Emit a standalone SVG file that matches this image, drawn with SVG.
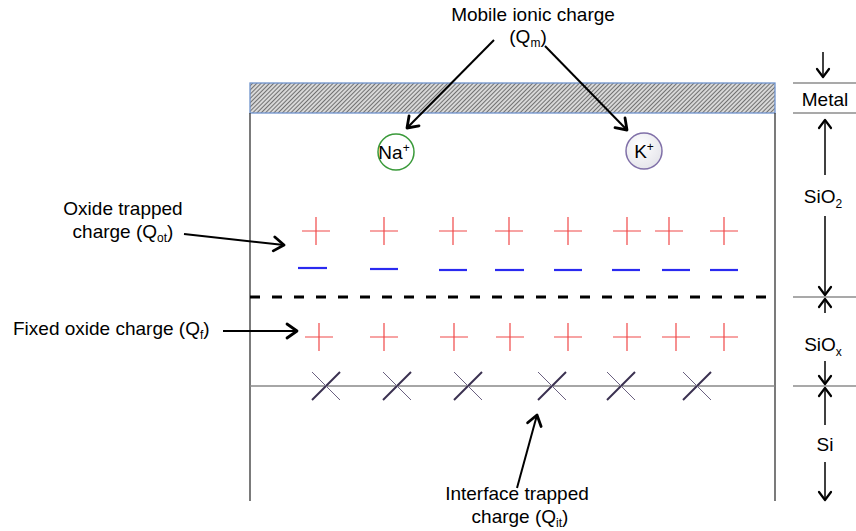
<svg xmlns="http://www.w3.org/2000/svg" width="856" height="531" viewBox="0 0 856 531">
<style>
text{font-family:"Liberation Sans",Arial,sans-serif;font-size:19px;fill:#000}
.sub{font-size:12px}
.ion{font-size:19px}
.box{stroke:#333;stroke-width:1.3;fill:none}
.scale{stroke:#555;stroke-width:1.2}
.arr{stroke:#000;stroke-width:2;fill:none;marker-end:url(#ah)}
.sarr{stroke:#000;stroke-width:1.5;fill:none;marker-end:url(#sh)}
.plus{stroke:#f04848;stroke-width:1.2}
.minus{stroke:#2a2af0;stroke-width:2.2}
.x1{stroke:#3a3050;stroke-width:2}
.x2{stroke:#6a6080;stroke-width:1}
</style>
<defs>
<pattern id="hatch" patternUnits="userSpaceOnUse" width="3" height="3" patternTransform="rotate(45)">
<rect width="3" height="3" fill="#d8d8d8"/>
<line x1="0" y1="0" x2="0" y2="3" stroke="#444" stroke-width="1.4"/>
</pattern>
<marker id="ah" markerUnits="userSpaceOnUse" markerWidth="18" markerHeight="18" refX="13" refY="9" orient="auto">
<path d="M3,2 L13,9 L3,16" fill="none" stroke="#000" stroke-width="2.8" stroke-linecap="round" stroke-linejoin="round"/>
</marker>
<marker id="sh" markerUnits="userSpaceOnUse" markerWidth="16" markerHeight="16" refX="12" refY="8" orient="auto">
<path d="M4,2 L12,8 L4,14" fill="none" stroke="#000" stroke-width="2.2" stroke-linecap="round" stroke-linejoin="round"/>
</marker>
<radialGradient id="kfill" cx="0.4" cy="0.35" r="0.7">
<stop offset="0" stop-color="#ffffff"/>
<stop offset="1" stop-color="#e4e4ea"/>
</radialGradient>
</defs>

<g id="structure">
<rect id="metal" x="250" y="83" width="525" height="30" fill="url(#hatch)" stroke="#6f93cc" stroke-width="1.3"/>
<line class="box" x1="250" y1="113" x2="250" y2="501"/>
<line class="box" x1="775" y1="113" x2="775" y2="501"/>
<line id="oxide-interface" x1="250" y1="297" x2="775" y2="297" stroke="#000" stroke-width="3" stroke-dasharray="10,12"/>
<line id="si-interface" x1="250" y1="386" x2="775" y2="386" stroke="#888" stroke-width="1.6"/>
</g>

<g id="ions">
<g id="na">
<circle cx="396" cy="152" r="18" fill="#fff" stroke="#3a9a3a" stroke-width="1.5"/>
<text class="ion" x="394" y="159" text-anchor="middle">Na<tspan class="sub" dy="-7">+</tspan></text>
</g>
<g id="k">
<circle cx="644" cy="151" r="18" fill="url(#kfill)" stroke="#8070a8" stroke-width="1.5"/>
<text class="ion" x="644" y="158" text-anchor="middle">K<tspan class="sub" dy="-7">+</tspan></text>
</g>
</g>

<g id="oxide-trapped-charges">
<g class="plus">
<path d="M302,231h28M316,217v28"/>
<path d="M370,231h28M384,217v28"/>
<path d="M439,231h28M453,217v28"/>
<path d="M495,231h28M509,217v28"/>
<path d="M554,231h28M568,217v28"/>
<path d="M613,231h28M627,217v28"/>
<path d="M655,231h28M669,217v28"/>
<path d="M710,231h28M724,217v28"/>
</g>
<g class="minus">
<path d="M298,268h29"/>
<path d="M370,269h28"/>
<path d="M439,270h28"/>
<path d="M495,270h29"/>
<path d="M554,270h28"/>
<path d="M612,270h28"/>
<path d="M662,270h28"/>
<path d="M710,270h28"/>
</g>
</g>

<g id="fixed-oxide-charges" class="plus">
<path d="M305,337h28M319,323v28"/>
<path d="M370,337h28M384,323v28"/>
<path d="M440,337h28M454,323v28"/>
<path d="M496,337h28M510,323v28"/>
<path d="M554,337h28M568,323v28"/>
<path d="M613,337h28M627,323v28"/>
<path d="M662,337h28M676,323v28"/>
<path d="M710,337h28M724,323v28"/>
</g>

<g id="interface-traps">
<g class="x1">
<path d="M312,400L340,372"/><path d="M383,400L411,372"/><path d="M454,400L482,372"/>
<path d="M538,400L566,372"/><path d="M607,400L635,372"/><path d="M683,400L711,372"/>
</g>
<g class="x2">
<path d="M312,372L340,400"/><path d="M383,372L411,400"/><path d="M454,372L482,400"/>
<path d="M538,372L566,400"/><path d="M607,372L635,400"/><path d="M683,372L711,400"/>
</g>
</g>

<g id="labels">
<g id="mobile-label">
<text x="533" y="21" text-anchor="middle">Mobile ionic charge</text>
<text x="528" y="43" text-anchor="middle">(Q<tspan class="sub" dy="4">m</tspan><tspan dy="-4">)</tspan></text>
</g>
<g id="oxide-trapped-label">
<text x="123" y="215" text-anchor="middle">Oxide trapped</text>
<text x="123" y="238" text-anchor="middle">charge (Q<tspan class="sub" dy="4">ot</tspan><tspan dy="-4">)</tspan></text>
</g>
<g id="fixed-label">
<text x="13" y="335">Fixed oxide charge (Q<tspan class="sub" dy="4">f</tspan><tspan dy="-4">)</tspan></text>
</g>
<g id="interface-label">
<text x="517" y="500" text-anchor="middle">Interface trapped</text>
<text x="520" y="523" text-anchor="middle">charge (Q<tspan class="sub" dy="4">it</tspan><tspan dy="-4">)</tspan></text>
</g>
</g>

<g id="scale">
<line class="scale" x1="793" y1="83" x2="856" y2="83"/>
<line class="scale" x1="793" y1="113" x2="856" y2="113"/>
<line class="scale" x1="793" y1="297" x2="856" y2="297"/>
<line class="scale" x1="793" y1="386" x2="856" y2="386"/>
<text x="825" y="106" text-anchor="middle">Metal</text>
<text x="823" y="203" text-anchor="middle">SiO<tspan class="sub" dy="5">2</tspan></text>
<text x="823" y="351" text-anchor="middle">SiO<tspan class="sub" dy="5">x</tspan></text>
<text x="825" y="451" text-anchor="middle">Si</text>
</g>

<g id="connectors">
<path class="arr" d="M494,40L407,128"/>
<path class="arr" d="M545,46L627,130"/>
<path class="arr" d="M184,234L284,245"/>
<path class="arr" d="M223,331L297,331"/>
<path class="arr" d="M517,488L537,415"/>
<path class="sarr" d="M823,52L823,77"/>
<path class="sarr" d="M825,175L825,120"/>
<path class="sarr" d="M825,216L825,295"/>
<path class="sarr" d="M825,313L825,299"/>
<path class="sarr" d="M825,361L825,384"/>
<path class="sarr" d="M825,425L825,388"/>
<path class="sarr" d="M825,462L825,500"/>
</g>
</svg>
